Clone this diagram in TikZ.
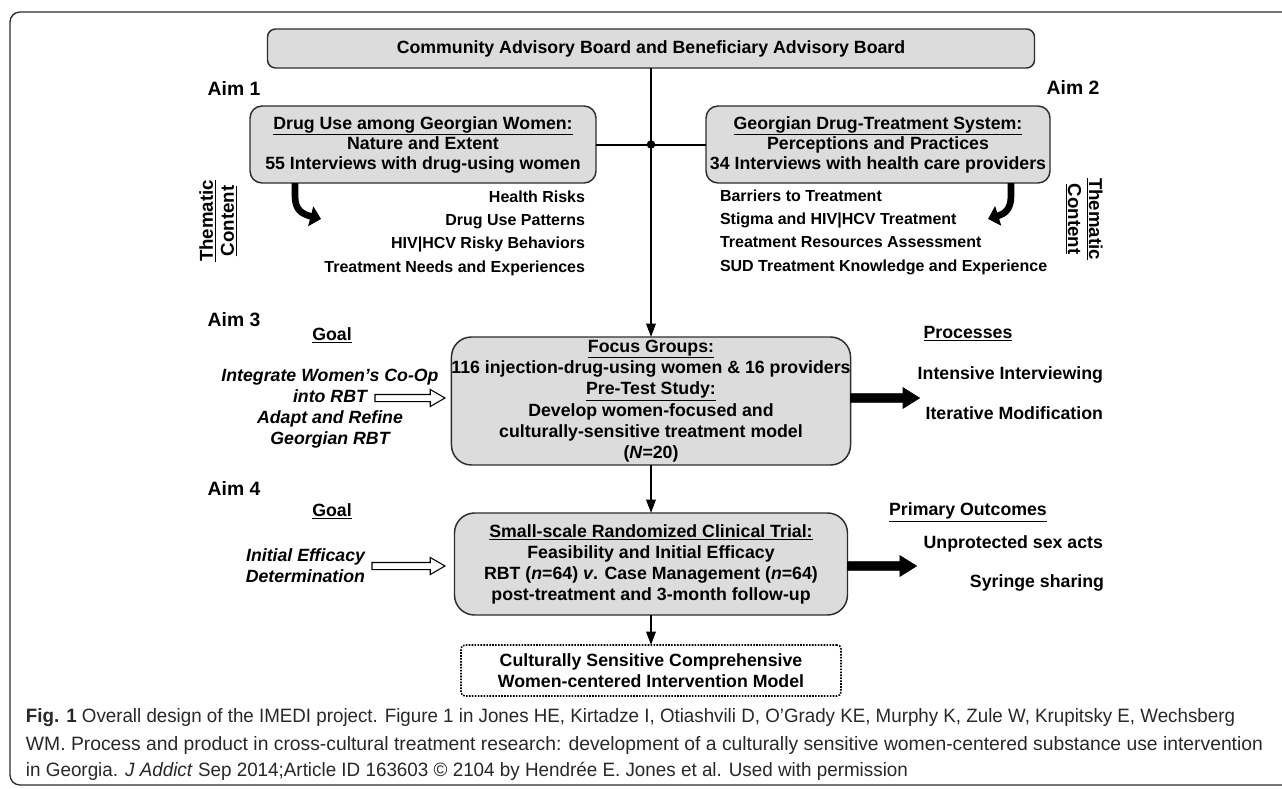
\documentclass[tikz,border=0pt]{standalone}
\usepackage{fontspec}
\usepackage{graphicx}
\setmainfont{Liberation Sans}
\usetikzlibrary{arrows.meta,shapes.arrows,calc}
\definecolor{boxgray}{RGB}{220,220,220}
\definecolor{edgec}{RGB}{45,45,45}
\definecolor{captc}{RGB}{40,40,40}
\begin{document}
\begin{tikzpicture}[x=0.75pt,y=-0.75pt,
  every node/.style={inner sep=0pt, outer sep=0pt},
  txt/.style={font=\bfseries\fontsize{13.3pt}{15.75pt}\selectfont, align=center},
  listtxt/.style={font=\bfseries\fontsize{12pt}{17.5pt}\selectfont},
  aimtxt/.style={font=\bfseries\fontsize{14.5pt}{17pt}\selectfont},
  goaltxt/.style={font=\bfseries\itshape\fontsize{13.3pt}{15.75pt}\selectfont, align=center},
  capt/.style={font=\mdseries\fontsize{14.5pt}{17pt}\selectfont, text=captc, anchor=west},
  graybox/.style={draw=edgec, line width=1.1pt, fill=boxgray, align=center},
  conn/.style={draw=black, line width=1.5pt, -{Triangle[length=10pt,width=7pt]}},
  plainline/.style={draw=black, line width=1.5pt},
  thickarrow/.style={draw=black, line width=5pt, -{Triangle[length=8pt,width=15pt]}},
  hollowarrow/.style={shape=single arrow, draw=black, fill=white, line width=0.8pt,
     minimum height=52.5pt, minimum width=12pt, inner sep=2.25pt,
     single arrow head extend=3.75pt, single arrow tip angle=60},
  blackarrow/.style={shape=single arrow, draw=black, fill=black, line width=0.5pt,
     minimum height=51.75pt, minimum width=15pt, inner sep=3pt,
     single arrow head extend=4.5pt, single arrow tip angle=64}
]
\useasboundingbox (0,0) rectangle (1282,789);
\clip (0,0) rectangle (1282,789);
\fill[white] (0,0) rectangle (1282,789);
% outer frame
\draw[draw=edgec, line width=1pt, rounded corners=7.5pt] (10,12) rectangle (1320,785);

% boxes
\node[graybox, txt, rounded corners=6pt, minimum width=575.25pt, minimum height=29.25pt] (board) at (651,48.5)
  {Community Advisory Board and Beneficiary Advisory Board};
\node[graybox, txt, font=\bfseries\fontsize{13.3pt}{15pt}\selectfont, rounded corners=9pt, minimum width=259.5pt, minimum height=57.75pt] (aimone) at (423,144.5)
  {\underline{Drug Use among Georgian Women:}\\Nature and Extent\\55 Interviews with drug-using women};
\node[graybox, txt, font=\bfseries\fontsize{13.3pt}{15pt}\selectfont, rounded corners=9pt, minimum width=258pt, minimum height=57.75pt] (aimtwo) at (878,144.5)
  {\underline{Georgian Drug-Treatment System:}\\Perceptions and Practices\\34 Interviews with health care providers};
\node[graybox, txt, font=\bfseries\fontsize{13.3pt}{16pt}\selectfont, rounded corners=15pt, minimum width=294.75pt, minimum height=96pt] (focus) at (651,401)
  {\underline{Focus Groups:}\\116 injection-drug-using women \& 16 providers\\\underline{Pre-Test Study:}\\Develop women-focused and\\culturally-sensitive treatment model\\(\textit{N}=20)};
\node[graybox, txt, rounded corners=15pt, minimum width=294.75pt, minimum height=76.5pt] (rct) at (651,564)
  {\underline{Small-scale Randomized Clinical Trial:}\\Feasibility and Initial Efficacy\\RBT (\textit{n}=64) \textit{v}. Case Management (\textit{n}=64)\\post-treatment and 3-month follow-up};
\node[draw=black, line width=1.2pt, densely dotted, fill=white, txt, font=\bfseries\fontsize{13.3pt}{16pt}\selectfont, rounded corners=3pt, minimum width=285pt, minimum height=38.25pt] (final) at (651,670.5)
  {Culturally Sensitive Comprehensive\\Women-centered Intervention Model};

% connectors
\draw[conn] (board.south) -- (focus.north);
\draw[plainline] (aimone.east) -- (aimtwo.west);
\coordinate (junc) at (aimone.east -| board.south);
\fill[black] (junc) circle (3.2pt);
\draw[conn] (focus.south) -- (rct.north);
\draw[conn] (rct.south) -- (final.north);

% thematic arrows
\coordinate (tls) at ($(aimone.south west)+(45,0)$);
\coordinate (trs) at ($(aimtwo.south east)+(-39,0)$);
\draw[thickarrow] (tls) -- ++(0,13) .. controls +(0,14) and (302,214) .. (321,219);
\draw[thickarrow] (trs) -- ++(0,13) .. controls +(0,14) and (1004,214) .. (988,219);

% Aim labels
\node[aimtxt] (a1) at (234,88) {Aim 1};
\node[aimtxt] (a2) at (1073,87) {Aim 2};
\node[aimtxt] (a3) at (234,320) {Aim 3};
\node[aimtxt] (a4) at (234,488) {Aim 4};

% thematic content labels
\node[txt, font=\bfseries\fontsize{14pt}{15.75pt}\selectfont, rotate=90] (thl) at (218,221) {\underline{Thematic}\\\underline{Content}};
\node[txt, font=\bfseries\fontsize{14pt}{15.75pt}\selectfont, rotate=-90] (thr) at (1084,219) {\underline{Thematic}\\\underline{Content}};

% lists
\node[listtxt, align=right, anchor=east] (listl) at (585,233)
  {Health Risks\\Drug Use Patterns\\HIV|HCV Risky Behaviors\\Treatment Needs and Experiences};
\node[listtxt, align=left, anchor=west] (listr) at (720,232)
  {Barriers to Treatment\\Stigma and HIV|HCV Treatment\\Treatment Resources Assessment\\SUD Treatment Knowledge and Experience};

% goal headers
\node[txt] (goal3) at (332,335) {\underline{Goal}};
\node[txt] (goal4) at (332,511) {\underline{Goal}};
\node[txt] (proc) at (968,334) {\underline{Processes}};
\node[txt] (prim) at (968,512) {\underline{Primary Outcomes}};

% goals
\node[goaltxt] (g3) at (330,408.5) {Integrate Women’s Co-Op\\into RBT\\Adapt and Refine\\Georgian RBT};
\node[goaltxt, align=right, anchor=east] (g4) at (365,565.5) {Initial Efficacy\\Determination};
\node[hollowarrow, anchor=west] (h3) at (375,398) {};
\node[hollowarrow, anchor=west, minimum height=54.75pt] (h4) at (372,566) {};

% black arrows and outcomes
\node[blackarrow, anchor=west] (b3) at (focus.east |- 0,398) {};
\node[blackarrow, anchor=west] (b4) at (rct.east |- 0,566) {};
\node[txt, anchor=east] (p1) at (1103,375) {Intensive Interviewing};
\node[txt, anchor=east] (p2) at (1103,413) {Iterative Modification};
\node[txt, anchor=east] (o1) at (1103,544) {Unprotected sex acts};
\node[txt, anchor=east] (o2) at (1104,583) {Syringe sharing};

% caption
\node[capt] (c1) at (26,718) {\resizebox{906.75pt}{\height}{\textbf{Fig. 1} Overall design of the IMEDI project. Figure 1 in Jones HE, Kirtadze I, Otiashvili D, O’Grady KE, Murphy K, Zule W, Krupitsky E, Wechsberg}};
\node[capt] (c2) at (26,745) {\resizebox{927.75pt}{\height}{WM. Process and product in cross-cultural treatment research: development of a culturally sensitive women-centered substance use intervention}};
\node[capt] (c3) at (26,771) {\resizebox{661.5pt}{\height}{in Georgia. \textit{J Addict} Sep 2014;Article ID 163603 © 2104 by Hendrée E. Jones et al. Used with permission}};
\end{tikzpicture}
\end{document}
